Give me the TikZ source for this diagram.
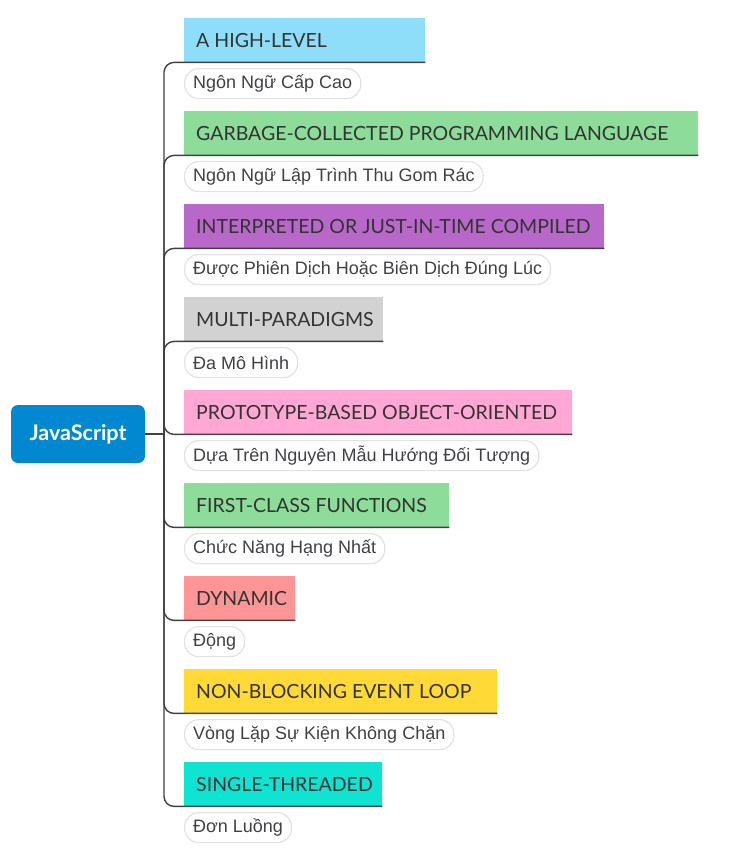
\documentclass[tikz,border=0pt]{standalone}
\usepackage{fontspec}
\setmainfont{Liberation Sans}
\newfontfamily\topicfont{Lato}
\newfontfamily\rootfont{Lato}
\definecolor{rootblue}{HTML}{0288D1}
\definecolor{txt}{HTML}{333333}
\definecolor{subtxt}{HTML}{3F4145}
\definecolor{pillline}{HTML}{E2E2E2}
\definecolor{linec}{HTML}{404040}
\definecolor{cA}{HTML}{8EDEF9}
\definecolor{cB}{HTML}{8DDC99}
\definecolor{cC}{HTML}{B768C8}
\definecolor{cD}{HTML}{D2D2D2}
\definecolor{cE}{HTML}{FFA8D6}
\definecolor{cF}{HTML}{8DDC99}
\definecolor{cG}{HTML}{FF9595}
\definecolor{cH}{HTML}{FFD936}
\definecolor{cI}{HTML}{0FE3D1}
\tikzset{
  topicbox/.style={anchor=north west, inner ysep=0pt, inner xsep=12pt, minimum height=44pt,
    execute at begin node={\hbox to #1\bgroup},
    execute at end node={\hfil\egroup},
    font=\topicfont\fontsize{19.5}{19.5}\selectfont, text=txt},
  subbox/.style={anchor=north west, inner ysep=0pt, inner xsep=8.5pt, minimum height=30pt,
    draw=pillline, line width=1.2pt, rounded corners=14pt,
    fill=white, font=\fontsize{18}{18}\selectfont, text=subtxt},
  conn/.style={draw=linec, line width=1.4pt, rounded corners=10pt},
  rootbox/.style={fill=rootblue, rounded corners=7pt, minimum width=134pt, minimum height=58pt,
    text=white, font=\rootfont\bfseries\fontsize{21.5}{21.5}\selectfont, inner sep=0pt}
}
\begin{document}
\begin{tikzpicture}[x=1pt,y=-1pt]
\useasboundingbox[fill=white] (0,0) rectangle (737,855);
\node[rootbox] (root) at (78,434) {JavaScript};
\coordinate (j) at (164,434);

\node[topicbox={217pt}, fill=cA] (t1) at (184,18)  {A HIGH-LEVEL};
\node[topicbox={490pt}, fill=cB] (t2) at (184,111) {GARBAGE-COLLECTED PROGRAMMING LANGUAGE};
\node[topicbox={396pt}, fill=cC] (t3) at (184,204) {INTERPRETED OR JUST-IN-TIME COMPILED};
\node[topicbox={175pt}, fill=cD] (t4) at (184,297) {MULTI-PARADIGMS};
\node[topicbox={364pt}, fill=cE] (t5) at (184,390) {PROTOTYPE-BASED OBJECT-ORIENTED};
\node[topicbox={241pt}, fill=cF] (t6) at (184,483) {FIRST-CLASS FUNCTIONS};
\node[topicbox={87pt},  fill=cG] (t7) at (184,576) {DYNAMIC};
\node[topicbox={289pt}, fill=cH] (t8) at (184,669) {NON-BLOCKING EVENT LOOP};
\node[topicbox={174pt}, fill=cI] (t9) at (184,762) {SINGLE-THREADED};

\node[subbox] (s1) at (184,68)  {Ngôn Ngữ Cấp Cao};
\node[subbox] (s2) at (184,161) {Ngôn Ngữ Lập Trình Thu Gom Rác};
\node[subbox] (s3) at (184,254) {Được Phiên Dịch Hoặc Biên Dịch Đúng Lúc};
\node[subbox] (s4) at (184,347) {Đa Mô Hình};
\node[subbox] (s5) at (184,440) {Dựa Trên Nguyên Mẫu Hướng Đối Tượng};
\node[subbox] (s6) at (184,533) {Chức Năng Hạng Nhất};
\node[subbox] (s7) at (184,626) {Động};
\node[subbox] (s8) at (184,719) {Vòng Lặp Sự Kiện Không Chặn};
\node[subbox] (s9) at (184,812) {Đơn Luồng};

\draw[conn, rounded corners=0pt] (root.east) -- (j);
\foreach \t in {t1,t2,t3,t4,t5,t6,t7,t8,t9}
  \draw[conn] (j) |- (\t.south east);
\end{tikzpicture}
\end{document}
